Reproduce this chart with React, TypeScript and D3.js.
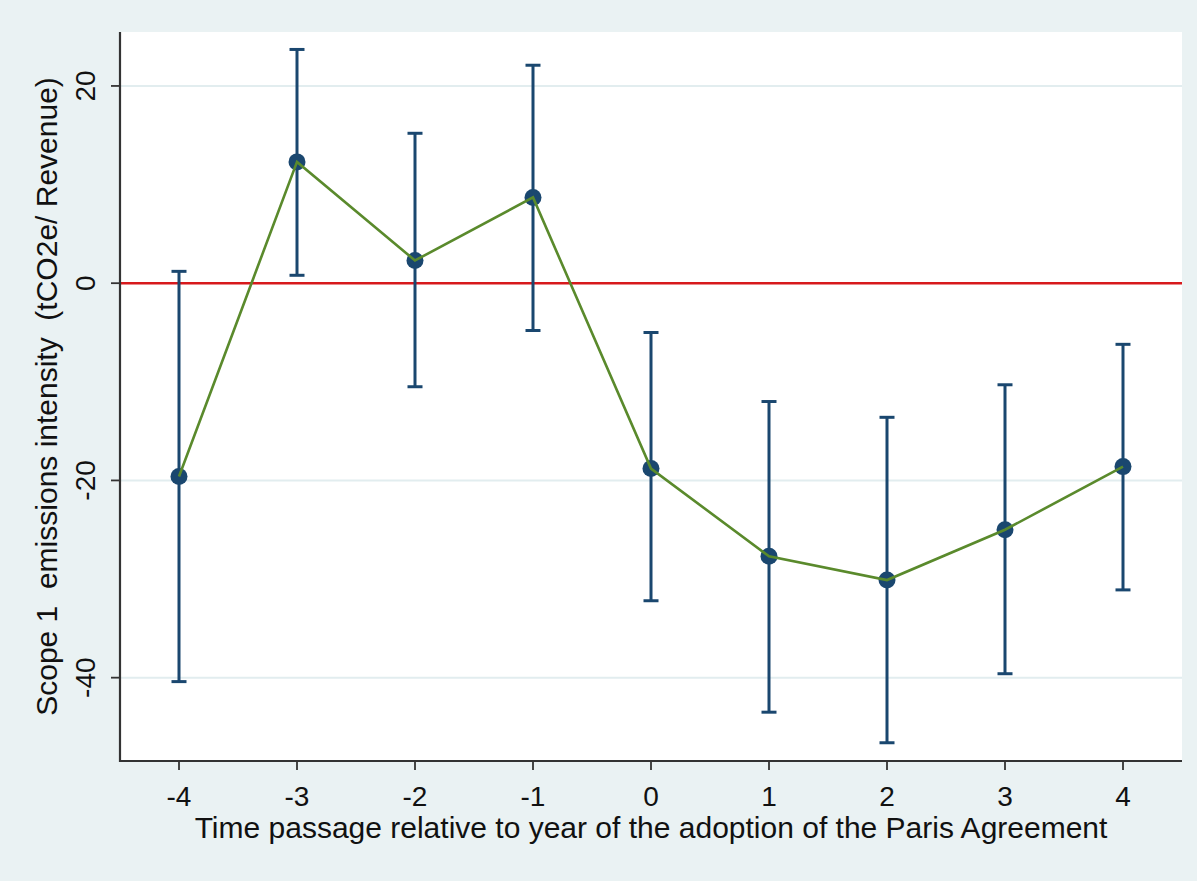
import React from "react";
import * as d3 from "d3";

// relative year to Paris Agreement adoption
const periods = [-4, -3, -2, -1, 0, 1, 2, 3, 4];
const estimates = [-19.6, 12.3, 2.3, 8.7, -18.8, -27.7, -30.1, -25.0, -18.6];
const upperCI = [1.2, 23.7, 15.2, 22.1, -5.0, -12.0, -13.6, -10.3, -6.2];
const lowerCI = [-40.4, 0.8, -10.5, -4.8, -32.2, -43.5, -46.6, -39.6, -31.1];
const yTicks = [20, 0, -20, -40];
const gridTicks = [20, -20, -40];

const W = 1197;
const H = 881;
const margin = { top: 32, right: 15, bottom: 120, left: 120 };

const NAVY = "#1a476f";
const GREEN = "#5a8a2c";
const RED = "#d7191c";
const BG = "#eaf2f3";
const FONT = "'Liberation Sans', Arial, Helvetica, sans-serif";

export default function App() {
  const x = d3
    .scaleLinear()
    .domain([-4.5, 4.5])
    .range([margin.left, W - margin.right]);
  const y = d3
    .scaleLinear()
    .domain([-48.45, 25.47])
    .range([H - margin.bottom, margin.top]);

  const pts = periods.map((p, i) => ({
    p,
    est: estimates[i],
    hi: upperCI[i],
    lo: lowerCI[i],
  }));

  const line = d3
    .line<{ p: number; est: number }>()
    .x((d) => x(d.p))
    .y((d) => y(d.est));

  const x0 = margin.left;
  const x1 = W - margin.right;
  const yb = H - margin.bottom;
  const cap = 7.5;

  return (
    <svg
      width={W}
      height={H}
      style={{ position: "absolute", left: 0, top: 0, display: "block" }}
      fontFamily={FONT}
    >
      <rect x={0} y={0} width={W} height={H} fill={BG} />
      <rect x={x0} y={margin.top} width={x1 - x0} height={yb - margin.top} fill="#ffffff" />

      {/* grid lines */}
      {gridTicks.map((t) => (
        <line key={"g" + t} x1={x0} x2={x1} y1={y(t)} y2={y(t)} stroke="#e2edef" strokeWidth={2} />
      ))}

      {/* reference line at zero */}
      <line x1={x0} x2={x1} y1={y(0)} y2={y(0)} stroke={RED} strokeWidth={2.4} />

      {/* confidence intervals */}
      {pts.map((d) => (
        <g key={"ci" + d.p} stroke={NAVY} strokeWidth={3}>
          <line x1={x(d.p)} x2={x(d.p)} y1={y(d.hi)} y2={y(d.lo)} />
          <line x1={x(d.p) - cap} x2={x(d.p) + cap} y1={y(d.hi)} y2={y(d.hi)} />
          <line x1={x(d.p) - cap} x2={x(d.p) + cap} y1={y(d.lo)} y2={y(d.lo)} />
        </g>
      ))}

      {/* point estimates */}
      {pts.map((d) => (
        <circle key={"pt" + d.p} cx={x(d.p)} cy={y(d.est)} r={8.5} fill={NAVY} />
      ))}
      <path d={line(pts) || ""} fill="none" stroke={GREEN} strokeWidth={2.6} />

      {/* axes */}
      <line x1={x0} x2={x0} y1={margin.top} y2={yb + 1} stroke="#333" strokeWidth={2.2} />
      <line x1={x0 - 1} x2={x1} y1={yb} y2={yb} stroke="#333" strokeWidth={2.2} />

      {yTicks.map((t) => (
        <g key={"yt" + t}>
          <line x1={x0 - 9} x2={x0} y1={y(t)} y2={y(t)} stroke="#333" strokeWidth={1.8} />
          <text
            transform={`translate(${x0 - 25},${y(t)}) rotate(-90)`}
            textAnchor="middle"
            fontSize={28}
            fill="#111"
          >
            {t}
          </text>
        </g>
      ))}

      {periods.map((t) => (
        <g key={"xt" + t}>
          <line x1={x(t)} x2={x(t)} y1={yb} y2={yb + 9} stroke="#333" strokeWidth={1.8} />
          <text x={x(t)} y={yb + 45} textAnchor="middle" fontSize={28} fill="#111">
            {t}
          </text>
        </g>
      ))}

      <text
        transform={`translate(${57},${(margin.top + yb) / 2}) rotate(-90)`}
        textAnchor="middle"
        fontSize={30}
        fill="#111"
        style={{ whiteSpace: "pre" }}
      >
        {"Scope 1  emissions intensity  (tCO2e/ Revenue)"}
      </text>

      <text
        x={(x0 + x1) / 2}
        y={yb + 77}
        textAnchor="middle"
        fontSize={30}
        fill="#111"
      >
        Time passage relative to year of the adoption of the Paris Agreement
      </text>
    </svg>
  );
}
